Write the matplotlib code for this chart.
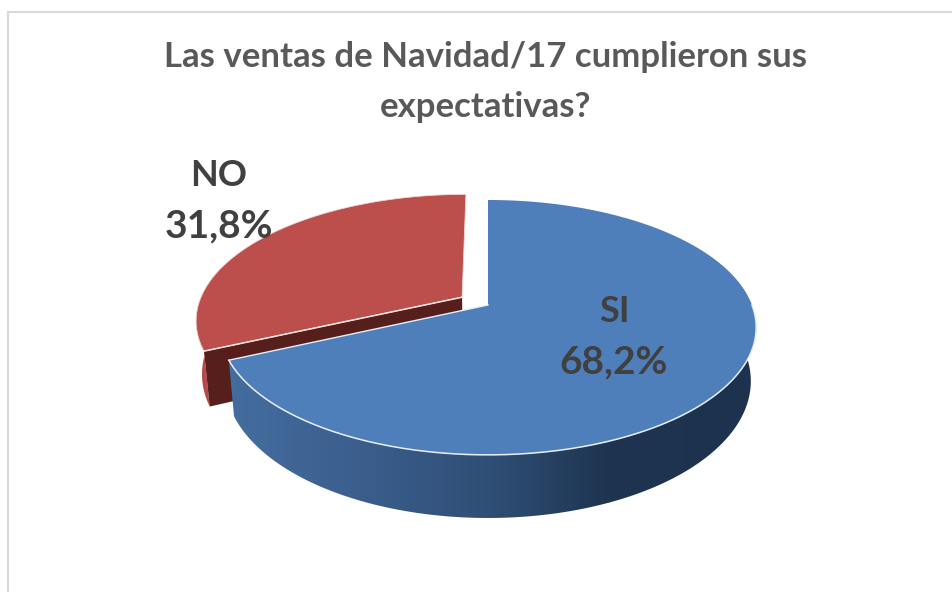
import numpy as np
import matplotlib
matplotlib.use("Agg")
from matplotlib import pyplot as plt
from matplotlib.colors import LinearSegmentedColormap
from matplotlib.patches import Polygon

title = "Las ventas de Navidad/17 cumplieron sus\nexpectativas?"
labels = ["SI", "NO"]
values = [68.2, 31.8]
shares = ["68,2%", "31,8%"]

# pie geometry, in pixels of the picture
cx, cy = 488, 305
rx, ry = 264, 123.5
persp = 0.176
depth = 52
explode = 0.118


def project(x, y, z=0.0):
    s = 1 / (1 + persp * y)
    return cx + rx * x * s * (1 - 0.02 * z), cy - ry * y * s + depth * s * z


def ring(a0, a1, off=(0, 0), z=0.0, n=200):
    t = np.radians(np.linspace(a0, a1, n))
    return np.column_stack(project(np.sin(t) + off[0], np.cos(t) + off[1], z))


def corner(off, z=0.0):
    return np.column_stack(project(np.array([off[0]]), np.array([off[1]]), z))


plt.rcParams["font.family"] = ["Lato", "DejaVu Sans"]
fig = plt.figure(figsize=(9.53, 5.92), dpi=100)
ax = fig.add_axes([0, 0, 1, 1])
ax.set_xlim(0, 953)
ax.set_ylim(592, 0)
ax.axis("off")

angle = values[0] / sum(values) * 360
mid = np.radians(angle + (360 - angle) / 2)
red_off = (explode * np.sin(mid), explode * np.cos(mid))
no_off = (0, 0)

# red slice: outer side, cut wall, top
ax.add_patch(
    Polygon(
        np.vstack([ring(angle, 285, red_off), ring(285, angle, red_off, 1)]),
        fc="#b54a48",
        ec="none",
        zorder=1,
    )
)
ax.add_patch(
    Polygon(
        np.vstack(
            [
                corner(red_off),
                ring(angle, angle, red_off, n=1),
                ring(angle, angle, red_off, 1, n=1),
                corner(red_off, 1),
            ]
        ),
        fc="#561f1c",
        ec="none",
        zorder=2,
    )
)
red_top = np.vstack([corner(red_off), ring(angle, 360, red_off)])
ax.add_patch(Polygon(red_top, fc="#bc4e4b", ec="#f0dcdb", lw=0.6, zorder=3))
red_cut = np.vstack([corner(red_off), ring(angle, angle, red_off, n=1)])
ax.plot(red_cut[:, 0], red_cut[:, 1], color="#f5e6e5", lw=1.1, zorder=3)

# blue slice: side with the light falling from the left, then top
side = np.vstack([ring(90, angle, no_off), ring(angle, 90, no_off, 1)])
cmap = LinearSegmentedColormap.from_list(
    "side",
    [
        (0.0, "#446e9f"),
        (0.22, "#3c6090"),
        (0.5, "#2f4e75"),
        (0.72, "#1e3450"),
        (1.0, "#1c324e"),
    ],
)
im = ax.imshow(
    np.linspace(0, 1, 256)[None, :],
    extent=[225, 760, 520, 320],
    cmap=cmap,
    aspect="auto",
    zorder=4,
)
clip = Polygon(side, transform=ax.transData, fc="none", ec="none")
ax.add_patch(clip)
im.set_clip_path(clip)
ax.set_xlim(0, 953)
ax.set_ylim(592, 0)

blue_top = np.vstack([corner(no_off), ring(0, angle, no_off)])
ax.add_patch(Polygon(blue_top, fc="#4f7fbb", ec="none", zorder=5))
edge = ring(90, angle, no_off)
ax.plot(edge[:, 0], edge[:, 1], color="#e8eef5", lw=1.1, zorder=6)
cut = np.vstack([corner(no_off), ring(angle, angle, no_off, n=1)])
ax.plot(cut[:, 0], cut[:, 1], color="#e8eef5", lw=1.0, zorder=6)

# chart frame, only top and left are visible
ax.plot([8.5, 953], [12, 12], color="#d9d9d9", lw=1.5, zorder=0)
ax.plot([8.5, 8.5], [12, 592], color="#d9d9d9", lw=1.5, zorder=0)

ax.text(
    486, 82, title, ha="center", va="center", fontsize=25, fontweight="bold",
    color="#595959", linespacing=1.72, zorder=7,
)
ax.text(614, 311, labels[0], ha="center", va="center", fontsize=26,
        fontweight="bold", color="#404040", zorder=7)
ax.text(614, 362, shares[0], ha="center", va="center", fontsize=28,
        fontweight="bold", color="#404040", zorder=7)
ax.text(219, 176, labels[1], ha="center", va="center", fontsize=26,
        fontweight="bold", color="#404040", zorder=7)
ax.text(219, 226, shares[1], ha="center", va="center", fontsize=28,
        fontweight="bold", color="#404040", zorder=7)

fig.savefig("out.png", dpi=100)
